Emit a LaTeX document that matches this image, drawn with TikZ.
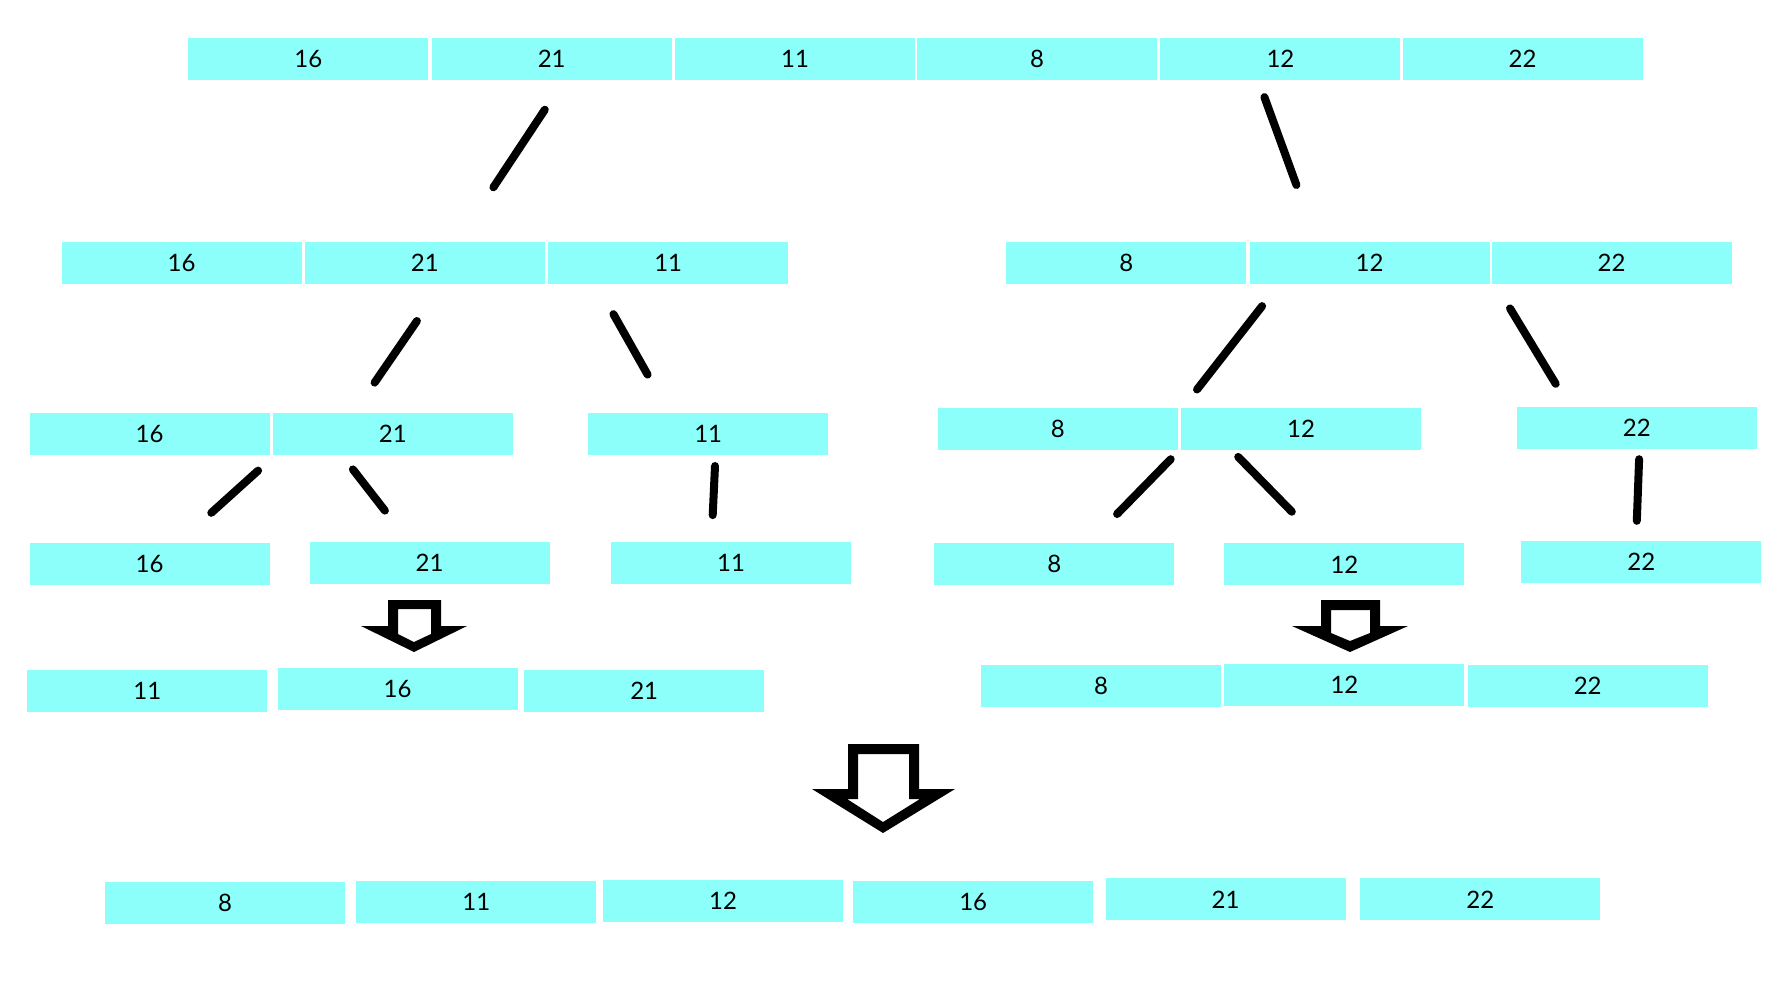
\documentclass[tikz,border=0pt]{standalone}
\usepackage{fontspec}
\setmainfont{Lato}
\usepackage{tikz}
\usetikzlibrary{positioning}

\definecolor{cellcyan}{RGB}{140,255,250}

\tikzset{
  cell/.style={fill=cellcyan, minimum width=120pt, minimum height=21pt,
    inner sep=0pt, font=\fontsize{12}{14}\selectfont},
  stroke/.style={line width=4pt, line cap=round},
  blockarrow/.style={fill=black, even odd rule}
}

\begin{document}
\begin{tikzpicture}[x=0.5pt, y=-0.5pt]
  \useasboundingbox (0,0) rectangle (1791,987);
  % row 0: the whole list
  \node[cell] (a1) at (308.4,58.8) {16};
  \node[cell] (a2) at (551.7,58.8) {21};
  \node[cell] (a3) at (795.0,58.8) {11};
  \node[cell] (a4) at (1037.1,58.8) {8};
  \node[cell] (a5) at (1280.4,58.8) {12};
  \node[cell] (a6) at (1522.6,58.8) {22};
  % row 1: halves
  \node[cell] (b1) at (181.6,262.7) {16};
  \node[cell] (b2) at (424.9,262.7) {21};
  \node[cell] (b3) at (668.2,262.7) {11};
  \node[cell] (b4) at (1126.2,262.7) {8};
  \node[cell] (b5) at (1369.5,262.7) {12};
  \node[cell] (b6) at (1611.6,262.7) {22};
  % row 2
  \node[cell] (c1) at (149.6,433.5) {16};
  \node[cell] (c2) at (392.9,433.5) {21};
  \node[cell] (c3) at (708.2,433.5) {11};
  \node[cell] (c4) at (1057.7,428.9) {8};
  \node[cell] (c5) at (1301.0,428.9) {12};
  \node[cell] (c6) at (1636.8,427.8) {22};
  % row 3: single cells
  \node[cell] (d1) at (149.6,563.7) {16};
  \node[cell] (d2) at (429.5,562.5) {21};
  \node[cell] (d3) at (731.0,562.5) {11};
  \node[cell] (d4) at (1054.3,563.7) {8};
  \node[cell] (d5) at (1344.4,564.3) {12};
  \node[cell] (d6) at (1641.3,561.9) {22};
  % row 4: merged halves
  \node[cell] (e1) at (147.3,690.5) {11};
  \node[cell] (e2) at (397.5,689.3) {16};
  \node[cell] (e3) at (644.2,690.5) {21};
  \node[cell] (e4) at (1101.1,685.9) {8};
  \node[cell] (e5) at (1344.4,684.7) {12};
  \node[cell] (e6) at (1587.7,685.9) {22};
  % row 5: sorted list
  \node[cell] (f1) at (225.0,903.0) {8};
  \node[cell] (f2) at (476.3,901.8) {11};
  \node[cell] (f3) at (723.0,900.6) {12};
  \node[cell] (f4) at (973.2,901.8) {16};
  \node[cell] (f5) at (1225.6,899.4) {21};
  \node[cell] (f6) at (1480.3,899.4) {22};

  % split strokes
  \foreach \xa/\ya/\xb/\yb in {544.8/109.7/493.4/187.3, 1264.4/97.1/1296.4/185.0,
      416.9/321.0/374.6/382.6, 613.4/314.1/647.6/374.6,
      1262.1/306.1/1197.0/389.5, 1510.0/308.4/1555.7/383.8,
      258.1/470.6/211.3/512.8, 352.9/469.4/384.9/510.6,
      715.0/466.0/712.7/515.1, 1170.7/459.2/1117.1/514.0,
      1238.2/456.9/1291.8/511.7, 1639.1/459.2/1636.8/520.8}
    \draw[stroke] (\xa,\ya) -- (\xb,\yb);

  % merge arrows
  \path[blockarrow] (388,600) -- (441,600) -- (441,626) -- (467,626) -- (414,652)
    -- (361,626) -- (388,626) -- cycle
    (398,609) -- (431,609) -- (431,634) -- (414,642) -- (398,634) -- cycle;
  \path[blockarrow] (1321,600) -- (1380,600) -- (1380,626) -- (1408,626) -- (1350,652)
    -- (1292,626) -- (1321,626) -- cycle
    (1331,610) -- (1370,610) -- (1370,633) -- (1350,641) -- (1331,633) -- cycle;
  \path[blockarrow] (848,744) -- (919,744) -- (919,789) -- (955,789) -- (883,833)
    -- (812,789) -- (848,789) -- cycle
    (858,754) -- (909,754) -- (909,799) -- (920,799) -- (883,822) -- (847,799)
    -- (858,799) -- cycle;
\end{tikzpicture}
\end{document}
